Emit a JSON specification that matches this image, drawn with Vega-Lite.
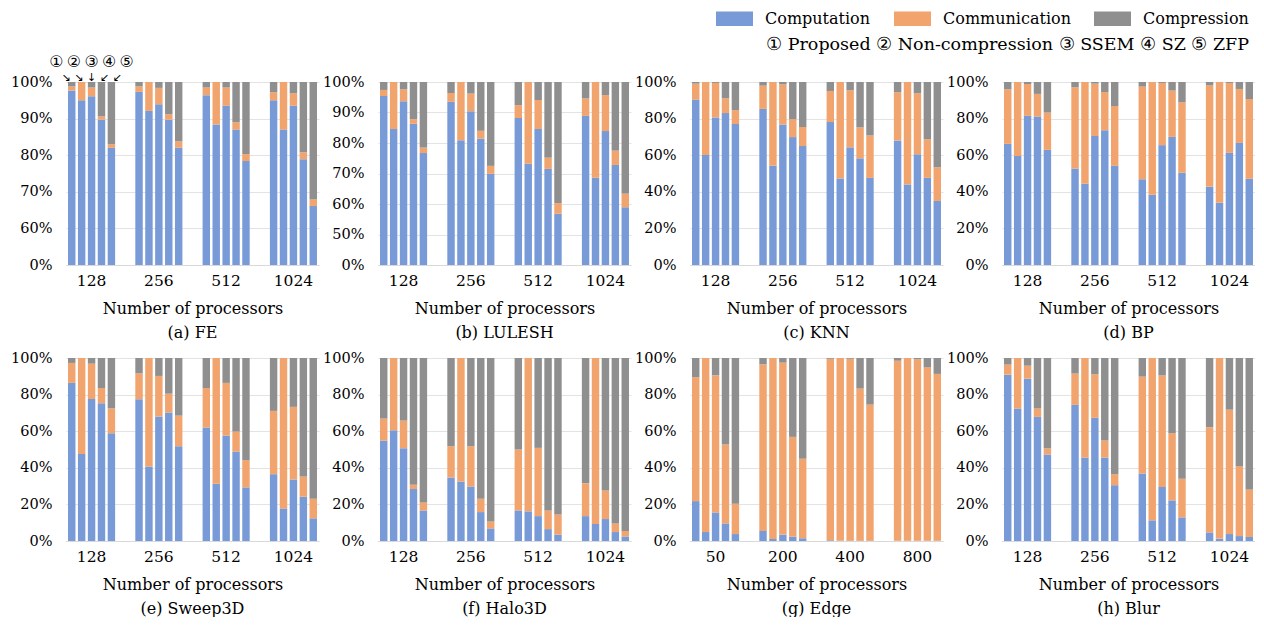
{
  "$schema": "https://vega.github.io/schema/vega-lite/v6.json",
  "autosize": {"type": "pad"},
  "padding": {"left": 10, "top": 0, "right": 0, "bottom": 0},
  "background": "white",
  "data": {"values": [
    {"g":"a","p":128,"m":1,"Computation":97.7,"Communication":1.1,"Compression":1.2},
    {"g":"a","p":128,"m":2,"Computation":95,"Communication":5,"Compression":0},
    {"g":"a","p":128,"m":3,"Computation":96.1,"Communication":2.4,"Compression":1.5},
    {"g":"a","p":128,"m":4,"Computation":89.7,"Communication":0.9,"Compression":9.4},
    {"g":"a","p":128,"m":5,"Computation":82,"Communication":1,"Compression":17},
    {"g":"a","p":256,"m":1,"Computation":97.3,"Communication":1.5,"Compression":1.2},
    {"g":"a","p":256,"m":2,"Computation":92.1,"Communication":7.9,"Compression":0},
    {"g":"a","p":256,"m":3,"Computation":93.9,"Communication":4.5,"Compression":1.6},
    {"g":"a","p":256,"m":4,"Computation":89.7,"Communication":1.5,"Compression":8.8},
    {"g":"a","p":256,"m":5,"Computation":82.1,"Communication":1.7,"Compression":16.2},
    {"g":"a","p":512,"m":1,"Computation":96.4,"Communication":2.1,"Compression":1.5},
    {"g":"a","p":512,"m":2,"Computation":88.4,"Communication":11.6,"Compression":0},
    {"g":"a","p":512,"m":3,"Computation":93.5,"Communication":5,"Compression":1.5},
    {"g":"a","p":512,"m":4,"Computation":87,"Communication":2,"Compression":11},
    {"g":"a","p":512,"m":5,"Computation":78.4,"Communication":1.9,"Compression":19.7},
    {"g":"a","p":1024,"m":1,"Computation":95,"Communication":2.2,"Compression":2.8},
    {"g":"a","p":1024,"m":2,"Computation":87,"Communication":13,"Compression":0},
    {"g":"a","p":1024,"m":3,"Computation":93.5,"Communication":3.4,"Compression":3.1},
    {"g":"a","p":1024,"m":4,"Computation":78.9,"Communication":1.9,"Compression":19.2},
    {"g":"a","p":1024,"m":5,"Computation":66.1,"Communication":1.8,"Compression":32.1},

    {"g":"b","p":128,"m":1,"Computation":95.4,"Communication":2,"Compression":2.6},
    {"g":"b","p":128,"m":2,"Computation":84.6,"Communication":15.4,"Compression":0},
    {"g":"b","p":128,"m":3,"Computation":93.7,"Communication":3.9,"Compression":2.4},
    {"g":"b","p":128,"m":4,"Computation":86.3,"Communication":1.5,"Compression":12.2},
    {"g":"b","p":128,"m":5,"Computation":76.7,"Communication":1.8,"Compression":21.5},
    {"g":"b","p":256,"m":1,"Computation":93.5,"Communication":2.9,"Compression":3.6},
    {"g":"b","p":256,"m":2,"Computation":80.9,"Communication":19.1,"Compression":0},
    {"g":"b","p":256,"m":3,"Computation":90.4,"Communication":5.8,"Compression":3.8},
    {"g":"b","p":256,"m":4,"Computation":81.5,"Communication":2.5,"Compression":16},
    {"g":"b","p":256,"m":5,"Computation":69.9,"Communication":2.6,"Compression":27.5},
    {"g":"b","p":512,"m":1,"Computation":88.2,"Communication":4.2,"Compression":7.6},
    {"g":"b","p":512,"m":2,"Computation":73.2,"Communication":26.8,"Compression":0},
    {"g":"b","p":512,"m":3,"Computation":84.6,"Communication":9.5,"Compression":5.9},
    {"g":"b","p":512,"m":4,"Computation":71.5,"Communication":3.7,"Compression":24.8},
    {"g":"b","p":512,"m":5,"Computation":56.8,"Communication":3.5,"Compression":39.7},
    {"g":"b","p":1024,"m":1,"Computation":88.9,"Communication":5.7,"Compression":5.4},
    {"g":"b","p":1024,"m":2,"Computation":68.6,"Communication":31.4,"Compression":0},
    {"g":"b","p":1024,"m":3,"Computation":83.9,"Communication":11.8,"Compression":4.3},
    {"g":"b","p":1024,"m":4,"Computation":72.8,"Communication":4.7,"Compression":22.5},
    {"g":"b","p":1024,"m":5,"Computation":58.9,"Communication":4.5,"Compression":36.6},

    {"g":"c","p":128,"m":1,"Computation":90.4,"Communication":8.7,"Compression":0.9},
    {"g":"c","p":128,"m":2,"Computation":60.1,"Communication":39.9,"Compression":0},
    {"g":"c","p":128,"m":3,"Computation":80.6,"Communication":18.9,"Compression":0.5},
    {"g":"c","p":128,"m":4,"Computation":83,"Communication":8.1,"Compression":8.9},
    {"g":"c","p":128,"m":5,"Computation":77,"Communication":7.6,"Compression":15.4},
    {"g":"c","p":256,"m":1,"Computation":85.3,"Communication":12.7,"Compression":2},
    {"g":"c","p":256,"m":2,"Computation":54.3,"Communication":45.7,"Compression":0},
    {"g":"c","p":256,"m":3,"Computation":76.8,"Communication":21.9,"Compression":1.3},
    {"g":"c","p":256,"m":4,"Computation":69.9,"Communication":9.8,"Compression":20.3},
    {"g":"c","p":256,"m":5,"Computation":65,"Communication":10.4,"Compression":24.6},
    {"g":"c","p":512,"m":1,"Computation":78.1,"Communication":17,"Compression":4.9},
    {"g":"c","p":512,"m":2,"Computation":47.3,"Communication":52.7,"Compression":0},
    {"g":"c","p":512,"m":3,"Computation":64.3,"Communication":31.2,"Compression":4.5},
    {"g":"c","p":512,"m":4,"Computation":58.3,"Communication":16.9,"Compression":24.8},
    {"g":"c","p":512,"m":5,"Computation":47.6,"Communication":23.2,"Compression":29.2},
    {"g":"c","p":1024,"m":1,"Computation":68.1,"Communication":26.3,"Compression":5.6},
    {"g":"c","p":1024,"m":2,"Computation":44,"Communication":56,"Compression":0},
    {"g":"c","p":1024,"m":3,"Computation":60.5,"Communication":33.3,"Compression":6.2},
    {"g":"c","p":1024,"m":4,"Computation":47.6,"Communication":21.1,"Compression":31.3},
    {"g":"c","p":1024,"m":5,"Computation":35,"Communication":18.4,"Compression":46.6},

    {"g":"d","p":128,"m":1,"Computation":66.2,"Communication":29.8,"Compression":4},
    {"g":"d","p":128,"m":2,"Computation":59.6,"Communication":40.4,"Compression":0},
    {"g":"d","p":128,"m":3,"Computation":81.5,"Communication":17.4,"Compression":1.1},
    {"g":"d","p":128,"m":4,"Computation":81.1,"Communication":12.4,"Compression":6.5},
    {"g":"d","p":128,"m":5,"Computation":62.9,"Communication":20.4,"Compression":16.7},
    {"g":"d","p":256,"m":1,"Computation":52.7,"Communication":44.4,"Compression":2.9},
    {"g":"d","p":256,"m":2,"Computation":44.4,"Communication":55.6,"Compression":0},
    {"g":"d","p":256,"m":3,"Computation":70.5,"Communication":28.6,"Compression":0.9},
    {"g":"d","p":256,"m":4,"Computation":73.6,"Communication":20.9,"Compression":5.5},
    {"g":"d","p":256,"m":5,"Computation":54.2,"Communication":32.7,"Compression":13.1},
    {"g":"d","p":512,"m":1,"Computation":46.9,"Communication":50.6,"Compression":2.5},
    {"g":"d","p":512,"m":2,"Computation":38.4,"Communication":61.6,"Compression":0},
    {"g":"d","p":512,"m":3,"Computation":65.5,"Communication":34,"Compression":0.5},
    {"g":"d","p":512,"m":4,"Computation":70,"Communication":25.3,"Compression":4.7},
    {"g":"d","p":512,"m":5,"Computation":50.4,"Communication":38.5,"Compression":11.1},
    {"g":"d","p":1024,"m":1,"Computation":42.7,"Communication":55.5,"Compression":1.8},
    {"g":"d","p":1024,"m":2,"Computation":34,"Communication":66,"Compression":0},
    {"g":"d","p":1024,"m":3,"Computation":61.3,"Communication":38.2,"Compression":0.5},
    {"g":"d","p":1024,"m":4,"Computation":66.7,"Communication":29.5,"Compression":3.8},
    {"g":"d","p":1024,"m":5,"Computation":47.1,"Communication":43.6,"Compression":9.3},

    {"g":"e","p":128,"m":1,"Computation":86.4,"Communication":10.9,"Compression":2.7},
    {"g":"e","p":128,"m":2,"Computation":47.6,"Communication":52.4,"Compression":0},
    {"g":"e","p":128,"m":3,"Computation":77.6,"Communication":19.3,"Compression":3.1},
    {"g":"e","p":128,"m":4,"Computation":75.3,"Communication":8.3,"Compression":16.4},
    {"g":"e","p":128,"m":5,"Computation":58.9,"Communication":13.6,"Compression":27.5},
    {"g":"e","p":256,"m":1,"Computation":77.5,"Communication":14.1,"Compression":8.4},
    {"g":"e","p":256,"m":2,"Computation":40.7,"Communication":59.3,"Compression":0},
    {"g":"e","p":256,"m":3,"Computation":68,"Communication":22.2,"Compression":9.8},
    {"g":"e","p":256,"m":4,"Computation":70.2,"Communication":10.3,"Compression":19.5},
    {"g":"e","p":256,"m":5,"Computation":51.8,"Communication":16.7,"Compression":31.5},
    {"g":"e","p":512,"m":1,"Computation":62,"Communication":21.6,"Compression":16.4},
    {"g":"e","p":512,"m":2,"Computation":31.3,"Communication":68.7,"Compression":0},
    {"g":"e","p":512,"m":3,"Computation":57.6,"Communication":28.8,"Compression":13.6},
    {"g":"e","p":512,"m":4,"Computation":48.9,"Communication":10.9,"Compression":40.2},
    {"g":"e","p":512,"m":5,"Computation":29.3,"Communication":14.9,"Compression":55.8},
    {"g":"e","p":1024,"m":1,"Computation":36.5,"Communication":34.6,"Compression":28.9},
    {"g":"e","p":1024,"m":2,"Computation":17.8,"Communication":82.2,"Compression":0},
    {"g":"e","p":1024,"m":3,"Computation":33.6,"Communication":39.7,"Compression":26.7},
    {"g":"e","p":1024,"m":4,"Computation":24.2,"Communication":11.1,"Compression":64.7},
    {"g":"e","p":1024,"m":5,"Computation":12.4,"Communication":10.7,"Compression":76.9},

    {"g":"f","p":128,"m":1,"Computation":54.9,"Communication":12,"Compression":33.1},
    {"g":"f","p":128,"m":2,"Computation":60.5,"Communication":39.5,"Compression":0},
    {"g":"f","p":128,"m":3,"Computation":50.7,"Communication":15.1,"Compression":34.2},
    {"g":"f","p":128,"m":4,"Computation":28.4,"Communication":2.3,"Compression":69.3},
    {"g":"f","p":128,"m":5,"Computation":16.7,"Communication":4.4,"Compression":78.9},
    {"g":"f","p":256,"m":1,"Computation":34.7,"Communication":17.1,"Compression":48.2},
    {"g":"f","p":256,"m":2,"Computation":32.5,"Communication":67.5,"Compression":0},
    {"g":"f","p":256,"m":3,"Computation":29.8,"Communication":22,"Compression":48.2},
    {"g":"f","p":256,"m":4,"Computation":15.8,"Communication":7.3,"Compression":76.9},
    {"g":"f","p":256,"m":5,"Computation":6.9,"Communication":3.8,"Compression":89.3},
    {"g":"f","p":512,"m":1,"Computation":16.7,"Communication":33.3,"Compression":50},
    {"g":"f","p":512,"m":2,"Computation":16.2,"Communication":83.8,"Compression":0},
    {"g":"f","p":512,"m":3,"Computation":13.6,"Communication":37.3,"Compression":49.1},
    {"g":"f","p":512,"m":4,"Computation":6.5,"Communication":10.2,"Compression":83.3},
    {"g":"f","p":512,"m":5,"Computation":3.5,"Communication":11,"Compression":85.5},
    {"g":"f","p":1024,"m":1,"Computation":13.6,"Communication":17.9,"Compression":68.5},
    {"g":"f","p":1024,"m":2,"Computation":9.3,"Communication":90.7,"Compression":0},
    {"g":"f","p":1024,"m":3,"Computation":12,"Communication":15.6,"Compression":72.4},
    {"g":"f","p":1024,"m":4,"Computation":4.9,"Communication":4.7,"Compression":90.4},
    {"g":"f","p":1024,"m":5,"Computation":2.5,"Communication":3,"Compression":94.5},

    {"g":"g","p":50,"m":1,"Computation":21.8,"Communication":67.7,"Compression":10.5},
    {"g":"g","p":50,"m":2,"Computation":4.9,"Communication":95.1,"Compression":0},
    {"g":"g","p":50,"m":3,"Computation":15.6,"Communication":74.9,"Compression":9.5},
    {"g":"g","p":50,"m":4,"Computation":9.6,"Communication":43.1,"Compression":47.3},
    {"g":"g","p":50,"m":5,"Computation":3.8,"Communication":16.6,"Compression":79.6},
    {"g":"g","p":200,"m":1,"Computation":5.5,"Communication":91,"Compression":3.5},
    {"g":"g","p":200,"m":2,"Computation":1.1,"Communication":98.9,"Compression":0},
    {"g":"g","p":200,"m":3,"Computation":3.5,"Communication":94,"Compression":2.5},
    {"g":"g","p":200,"m":4,"Computation":2.4,"Communication":54.5,"Compression":43.1},
    {"g":"g","p":200,"m":5,"Computation":1.5,"Communication":43.4,"Compression":55.1},
    {"g":"g","p":400,"m":1,"Computation":0.4,"Communication":99.2,"Compression":0.4},
    {"g":"g","p":400,"m":2,"Computation":0.1,"Communication":99.9,"Compression":0},
    {"g":"g","p":400,"m":3,"Computation":0.2,"Communication":99.4,"Compression":0.4},
    {"g":"g","p":400,"m":4,"Computation":0.2,"Communication":83.1,"Compression":16.7},
    {"g":"g","p":400,"m":5,"Computation":0.2,"Communication":74.3,"Compression":25.5},
    {"g":"g","p":800,"m":1,"Computation":0.1,"Communication":98.4,"Compression":1.5},
    {"g":"g","p":800,"m":2,"Computation":0.1,"Communication":99.9,"Compression":0},
    {"g":"g","p":800,"m":3,"Computation":0.1,"Communication":99.2,"Compression":0.7},
    {"g":"g","p":800,"m":4,"Computation":0.1,"Communication":94.8,"Compression":5.1},
    {"g":"g","p":800,"m":5,"Computation":0.1,"Communication":91.2,"Compression":8.7},

    {"g":"h","p":128,"m":1,"Computation":90.9,"Communication":5.5,"Compression":3.6},
    {"g":"h","p":128,"m":2,"Computation":72.4,"Communication":27.6,"Compression":0},
    {"g":"h","p":128,"m":3,"Computation":88.7,"Communication":7.1,"Compression":4.2},
    {"g":"h","p":128,"m":4,"Computation":67.8,"Communication":4.6,"Compression":27.6},
    {"g":"h","p":128,"m":5,"Computation":47.3,"Communication":3.2,"Compression":49.5},
    {"g":"h","p":256,"m":1,"Computation":74.4,"Communication":17.1,"Compression":8.5},
    {"g":"h","p":256,"m":2,"Computation":45.6,"Communication":54.4,"Compression":0},
    {"g":"h","p":256,"m":3,"Computation":67.3,"Communication":23.8,"Compression":8.9},
    {"g":"h","p":256,"m":4,"Computation":45.6,"Communication":9.3,"Compression":45.1},
    {"g":"h","p":256,"m":5,"Computation":30.5,"Communication":6,"Compression":63.5},
    {"g":"h","p":512,"m":1,"Computation":36.9,"Communication":52.9,"Compression":10.2},
    {"g":"h","p":512,"m":2,"Computation":11.3,"Communication":88.7,"Compression":0},
    {"g":"h","p":512,"m":3,"Computation":29.5,"Communication":61,"Compression":9.5},
    {"g":"h","p":512,"m":4,"Computation":22.2,"Communication":36.7,"Compression":41.1},
    {"g":"h","p":512,"m":5,"Computation":12.9,"Communication":21.1,"Compression":66},
    {"g":"h","p":1024,"m":1,"Computation":4.7,"Communication":57.5,"Compression":37.8},
    {"g":"h","p":1024,"m":2,"Computation":1.3,"Communication":98.7,"Compression":0},
    {"g":"h","p":1024,"m":3,"Computation":3.8,"Communication":68,"Compression":28.2},
    {"g":"h","p":1024,"m":4,"Computation":2.7,"Communication":38.2,"Compression":59.1},
    {"g":"h","p":1024,"m":5,"Computation":2.2,"Communication":26,"Compression":71.8}
  ]},
  "transform": [
    {"fold": ["Computation", "Communication", "Compression"], "as": ["part", "v"]},
    {"lookup": "part", "from": {"data": {"values": [{"part": "Computation", "o": 1}, {"part": "Communication", "o": 2}, {"part": "Compression", "o": 3}]}, "key": "part", "fields": ["o"]}}
  ],
  "columns": 4,
  "spacing": {"row": 93, "column": 59},
  "bounds": "flush",
  "resolve": {"scale": {"x": "independent", "y": "independent", "xOffset": "independent"}},
  "concat": [
    {
      "width": 253, "height": 183,
      "title": {"text": "(a) FE"},
      "layer": [
        {
          "transform": [{"filter": "datum.g == 'a'"}],
          "mark": {"type": "bar", "clip": true},
          "encoding": {
            "x": {"field": "p", "type": "ordinal", "title": "Number of processors", "scale": {"paddingInner": 0.3, "paddingOuter": 0.03}},
            "xOffset": {"field": "m", "type": "ordinal", "scale": {"paddingInner": 0.25, "paddingOuter": 0}},
            "y": {"field": "v", "type": "quantitative", "title": null, "scale": {"domain": [50, 100]}, "axis": {"values": [50, 60, 70, 80, 90, 100], "labelOverlap": false, "labelExpr": "datum.value == 50 ? '0%' : datum.value + '%'"}},
            "color": {"field": "part", "type": "nominal", "title": "① Proposed  ② Non-compression  ③ SSEM  ④ SZ  ⑤ ZFP", "scale": {"domain": ["Computation", "Communication", "Compression"], "range": ["#789BD8", "#F1A46D", "#8F8F8F"]}},
            "order": {"field": "o", "type": "quantitative"}
          }
        },
        {
          "data": {"values": [{"p": 128, "t": "①\u2009②\u2009③\u2009④\u2009⑤", "a": "↘ ↘ ↓ ↙ ↙"}]},
          "mark": {"type": "text", "font": "DejaVu Sans", "fontSize": 16, "dy": -20, "baseline": "middle", "color": "#000"},
          "encoding": {
            "x": {"field": "p", "type": "ordinal"},
            "y": {"datum": 100, "type": "quantitative", "title": null, "axis": {"values": [50, 60, 70, 80, 90, 100], "labelOverlap": false, "labelExpr": "datum.value == 50 ? '0%' : datum.value + '%'"}},
            "text": {"field": "t"}
          }
        },
        {
          "data": {"values": [{"p": 128, "t": "①\u2009②\u2009③\u2009④\u2009⑤", "a": "↘ ↘ ↓ ↙ ↙"}]},
          "mark": {"type": "text", "font": "DejaVu Sans", "fontSize": 11, "dy": -4, "baseline": "middle", "color": "#000"},
          "encoding": {
            "x": {"field": "p", "type": "ordinal"},
            "y": {"datum": 100, "type": "quantitative", "title": null, "axis": {"values": [50, 60, 70, 80, 90, 100], "labelOverlap": false, "labelExpr": "datum.value == 50 ? '0%' : datum.value + '%'"}},
            "text": {"field": "a"}
          }
        }
      ]
    },
    {
      "width": 253, "height": 183,
      "title": {"text": "(b) LULESH"},
      "transform": [{"filter": "datum.g == 'b'"}],
      "mark": {"type": "bar", "clip": true},
      "encoding": {
        "x": {"field": "p", "type": "ordinal", "title": "Number of processors", "scale": {"paddingInner": 0.3, "paddingOuter": 0.03}},
        "xOffset": {"field": "m", "type": "ordinal", "scale": {"paddingInner": 0.25, "paddingOuter": 0}},
        "y": {"field": "v", "type": "quantitative", "title": null, "scale": {"domain": [40, 100]}, "axis": {"values": [40, 50, 60, 70, 80, 90, 100], "labelOverlap": false, "labelExpr": "datum.value == 40 ? '0%' : datum.value + '%'"}},
        "color": {"field": "part", "type": "nominal", "title": "① Proposed  ② Non-compression  ③ SSEM  ④ SZ  ⑤ ZFP", "scale": {"domain": ["Computation", "Communication", "Compression"], "range": ["#789BD8", "#F1A46D", "#8F8F8F"]}},
        "order": {"field": "o", "type": "quantitative"}
      }
    },
    {
      "width": 253, "height": 183,
      "title": {"text": "(c) KNN"},
      "transform": [{"filter": "datum.g == 'c'"}],
      "mark": {"type": "bar", "clip": true},
      "encoding": {
        "x": {"field": "p", "type": "ordinal", "title": "Number of processors", "scale": {"paddingInner": 0.3, "paddingOuter": 0.03}},
        "xOffset": {"field": "m", "type": "ordinal", "scale": {"paddingInner": 0.25, "paddingOuter": 0}},
        "y": {"field": "v", "type": "quantitative", "title": null, "scale": {"domain": [0, 100]}, "axis": {"values": [0, 20, 40, 60, 80, 100], "labelOverlap": false, "labelExpr": "datum.value + '%'"}},
        "color": {"field": "part", "type": "nominal", "title": "① Proposed  ② Non-compression  ③ SSEM  ④ SZ  ⑤ ZFP", "scale": {"domain": ["Computation", "Communication", "Compression"], "range": ["#789BD8", "#F1A46D", "#8F8F8F"]}},
        "order": {"field": "o", "type": "quantitative"}
      }
    },
    {
      "width": 253, "height": 183,
      "title": {"text": "(d) BP"},
      "transform": [{"filter": "datum.g == 'd'"}],
      "mark": {"type": "bar", "clip": true},
      "encoding": {
        "x": {"field": "p", "type": "ordinal", "title": "Number of processors", "scale": {"paddingInner": 0.3, "paddingOuter": 0.03}},
        "xOffset": {"field": "m", "type": "ordinal", "scale": {"paddingInner": 0.25, "paddingOuter": 0}},
        "y": {"field": "v", "type": "quantitative", "title": null, "scale": {"domain": [0, 100]}, "axis": {"values": [0, 20, 40, 60, 80, 100], "labelOverlap": false, "labelExpr": "datum.value + '%'"}},
        "color": {"field": "part", "type": "nominal", "title": "① Proposed  ② Non-compression  ③ SSEM  ④ SZ  ⑤ ZFP", "scale": {"domain": ["Computation", "Communication", "Compression"], "range": ["#789BD8", "#F1A46D", "#8F8F8F"]}},
        "order": {"field": "o", "type": "quantitative"}
      }
    },
    {
      "width": 253, "height": 183,
      "title": {"text": "(e) Sweep3D"},
      "transform": [{"filter": "datum.g == 'e'"}],
      "mark": {"type": "bar", "clip": true},
      "encoding": {
        "x": {"field": "p", "type": "ordinal", "title": "Number of processors", "scale": {"paddingInner": 0.3, "paddingOuter": 0.03}},
        "xOffset": {"field": "m", "type": "ordinal", "scale": {"paddingInner": 0.25, "paddingOuter": 0}},
        "y": {"field": "v", "type": "quantitative", "title": null, "scale": {"domain": [0, 100]}, "axis": {"values": [0, 20, 40, 60, 80, 100], "labelOverlap": false, "labelExpr": "datum.value + '%'"}},
        "color": {"field": "part", "type": "nominal", "title": "① Proposed  ② Non-compression  ③ SSEM  ④ SZ  ⑤ ZFP", "scale": {"domain": ["Computation", "Communication", "Compression"], "range": ["#789BD8", "#F1A46D", "#8F8F8F"]}},
        "order": {"field": "o", "type": "quantitative"}
      }
    },
    {
      "width": 253, "height": 183,
      "title": {"text": "(f) Halo3D"},
      "transform": [{"filter": "datum.g == 'f'"}],
      "mark": {"type": "bar", "clip": true},
      "encoding": {
        "x": {"field": "p", "type": "ordinal", "title": "Number of processors", "scale": {"paddingInner": 0.3, "paddingOuter": 0.03}},
        "xOffset": {"field": "m", "type": "ordinal", "scale": {"paddingInner": 0.25, "paddingOuter": 0}},
        "y": {"field": "v", "type": "quantitative", "title": null, "scale": {"domain": [0, 100]}, "axis": {"values": [0, 20, 40, 60, 80, 100], "labelOverlap": false, "labelExpr": "datum.value + '%'"}},
        "color": {"field": "part", "type": "nominal", "title": "① Proposed  ② Non-compression  ③ SSEM  ④ SZ  ⑤ ZFP", "scale": {"domain": ["Computation", "Communication", "Compression"], "range": ["#789BD8", "#F1A46D", "#8F8F8F"]}},
        "order": {"field": "o", "type": "quantitative"}
      }
    },
    {
      "width": 253, "height": 183,
      "title": {"text": "(g) Edge"},
      "transform": [{"filter": "datum.g == 'g'"}],
      "mark": {"type": "bar", "clip": true},
      "encoding": {
        "x": {"field": "p", "type": "ordinal", "title": "Number of processors", "scale": {"paddingInner": 0.3, "paddingOuter": 0.03}},
        "xOffset": {"field": "m", "type": "ordinal", "scale": {"paddingInner": 0.25, "paddingOuter": 0}},
        "y": {"field": "v", "type": "quantitative", "title": null, "scale": {"domain": [0, 100]}, "axis": {"values": [0, 20, 40, 60, 80, 100], "labelOverlap": false, "labelExpr": "datum.value + '%'"}},
        "color": {"field": "part", "type": "nominal", "title": "① Proposed  ② Non-compression  ③ SSEM  ④ SZ  ⑤ ZFP", "scale": {"domain": ["Computation", "Communication", "Compression"], "range": ["#789BD8", "#F1A46D", "#8F8F8F"]}},
        "order": {"field": "o", "type": "quantitative"}
      }
    },
    {
      "width": 253, "height": 183,
      "title": {"text": "(h) Blur"},
      "transform": [{"filter": "datum.g == 'h'"}],
      "mark": {"type": "bar", "clip": true},
      "encoding": {
        "x": {"field": "p", "type": "ordinal", "title": "Number of processors", "scale": {"paddingInner": 0.3, "paddingOuter": 0.03}},
        "xOffset": {"field": "m", "type": "ordinal", "scale": {"paddingInner": 0.25, "paddingOuter": 0}},
        "y": {"field": "v", "type": "quantitative", "title": null, "scale": {"domain": [0, 100]}, "axis": {"values": [0, 20, 40, 60, 80, 100], "labelOverlap": false, "labelExpr": "datum.value + '%'"}},
        "color": {"field": "part", "type": "nominal", "title": "① Proposed  ② Non-compression  ③ SSEM  ④ SZ  ⑤ ZFP", "scale": {"domain": ["Computation", "Communication", "Compression"], "range": ["#789BD8", "#F1A46D", "#8F8F8F"]}},
        "order": {"field": "o", "type": "quantitative"}
      }
    }
  ],
  "config": {
    "font": "DejaVu Serif",
    "view": {"stroke": null},
    "title": {"orient": "bottom", "frame": "group", "font": "DejaVu Serif", "fontSize": 16, "fontWeight": "normal", "offset": 8, "color": "#000"},
    "axis": {"labelFont": "DejaVu Serif", "titleFont": "DejaVu Serif", "labelColor": "#000", "titleColor": "#000", "titleFontWeight": "normal", "ticks": false, "tickSize": 0},
    "axisX": {"domain": true, "domainColor": "#d9d9d9", "domainWidth": 1, "labelFontSize": 15.5, "labelPadding": 8, "titleFontSize": 16, "titlePadding": 12, "labelAngle": 0, "grid": false},
    "axisY": {"domain": false, "labelFontSize": 14.5, "labelPadding": 14, "grid": true, "gridColor": "#e3e3e3", "gridWidth": 1},
    "legend": {"orient": "none", "legendX": 650, "legendY": -82, "direction": "horizontal", "symbolType": "M-1,-0.39H1V0.39H-1Z", "symbolSize": 1369, "symbolStrokeWidth": 0, "symbolOpacity": 1, "labelFont": "DejaVu Serif", "labelFontSize": 16, "labelColor": "#000", "labelOffset": 12, "labelLimit": 300, "columnPadding": 23, "titleOrient": "bottom", "titleAnchor": "end", "titleFont": "DejaVu Serif", "titleFontSize": 17.5, "titleFontWeight": "normal", "titleColor": "#000", "titlePadding": 9, "titleLimit": 800}
  }
}
